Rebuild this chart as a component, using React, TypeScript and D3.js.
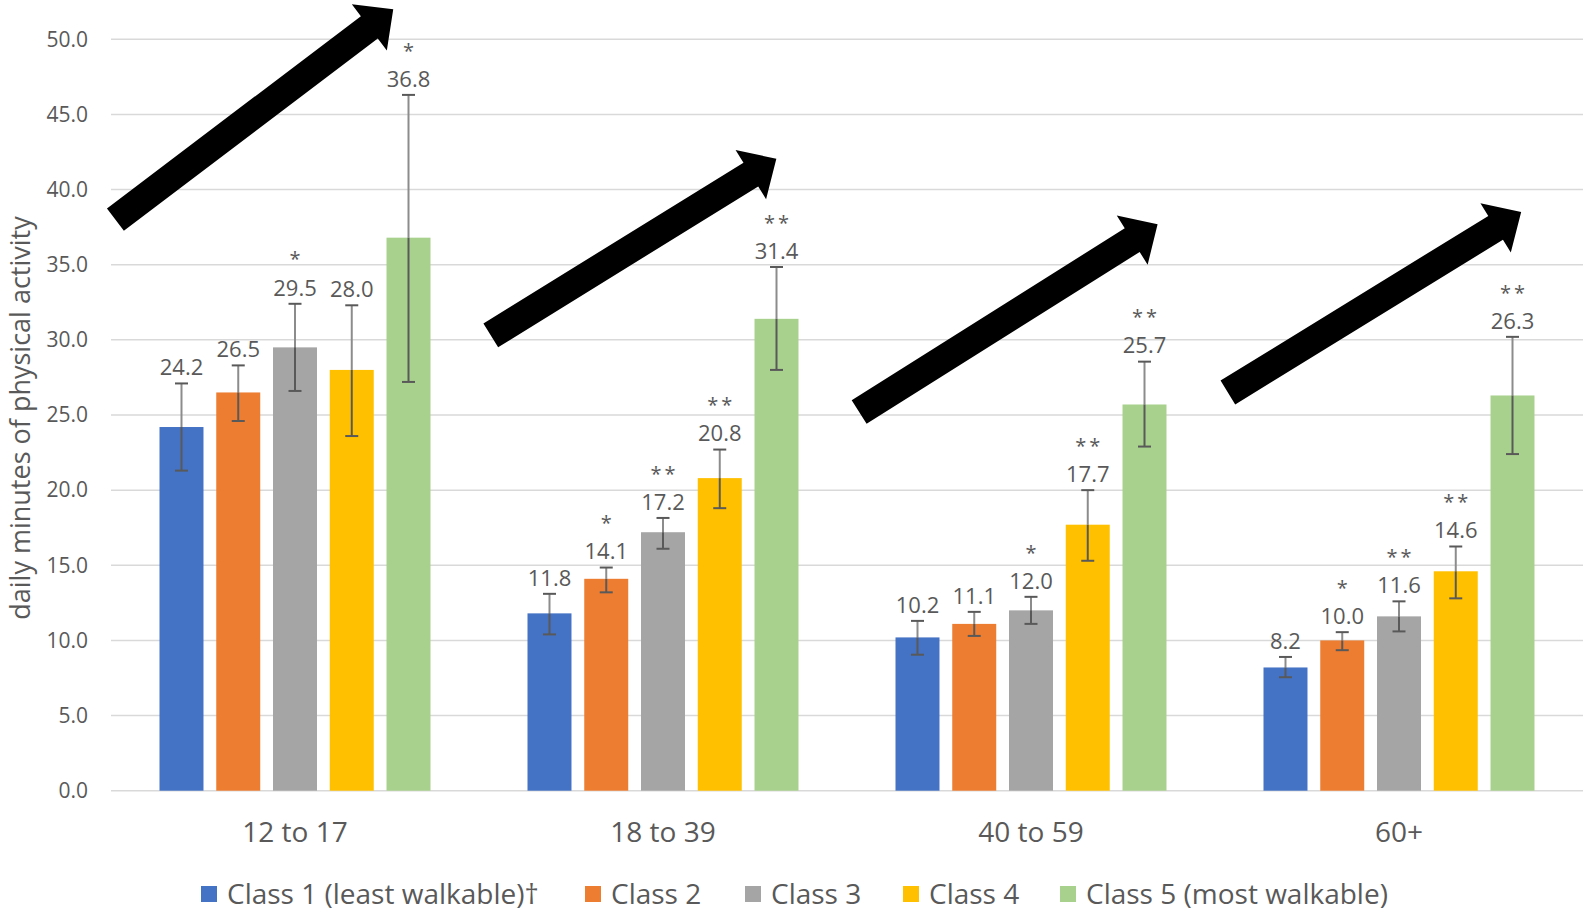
import React from "react";
import * as d3 from "d3";

const groups = ["12 to 17", "18 to 39", "40 to 59", "60+"];
const classes = ["Class 1 (least walkable)†", "Class 2", "Class 3", "Class 4", "Class 5 (most walkable)"];
const colors = ["#4472C4", "#ED7D31", "#A5A5A5", "#FFC000", "#A9D18E"];

// mean values per class, one entry per age group
const class1 = [24.2, 11.8, 10.2, 8.2];
const class2 = [26.5, 14.1, 11.1, 10.0];
const class3 = [29.5, 17.2, 12.0, 11.6];
const class4 = [28.0, 20.8, 17.7, 14.6];
const class5 = [36.8, 31.4, 25.7, 26.3];

// error bar lower / upper bounds
const low1 = [21.3, 10.4, 9.05, 7.55];
const low2 = [24.6, 13.2, 10.3, 9.35];
const low3 = [26.6, 16.1, 11.1, 10.6];
const low4 = [23.6, 18.8, 15.3, 12.8];
const low5 = [27.2, 28.0, 22.9, 22.4];

const high1 = [27.1, 13.1, 11.3, 8.9];
const high2 = [28.3, 14.85, 11.9, 10.55];
const high3 = [32.4, 18.15, 12.9, 12.6];
const high4 = [32.3, 22.7, 20.0, 16.25];
const high5 = [46.3, 34.85, 28.55, 30.2];

// significance markers
const sig1 = ["", "", "", ""];
const sig2 = ["", "*", "", "*"];
const sig3 = ["*", "**", "*", "**"];
const sig4 = ["", "**", "**", "**"];
const sig5 = ["*", "**", "**", "**"];

const yTicks = [0, 5, 10, 15, 20, 25, 30, 35, 40, 45, 50];

// trend arrows in data coordinates: [group index, fraction across group band, value]
const arrowTails = [[0, 0.012, 38.0], [1, 0.032, 30.3], [2, 0.033, 25.2], [3, 0.035, 26.5]];
const arrowTips = [[0, 0.767, 52.0], [1, 0.808, 42.05], [2, 0.844, 37.7], [3, 0.832, 38.5]];

const values = [class1, class2, class3, class4, class5];
const lows = [low1, low2, low3, low4, low5];
const highs = [high1, high2, high3, high4, high5];
const sigs = [sig1, sig2, sig3, sig4, sig5];

const W = 1585;
const H = 916;
const FONT = "'Open Sans', 'Noto Sans', sans-serif";
const TXT = "#595959";

export default function App() {
  const plotLeft = 111;
  const plotRight = 1583;
  const y = d3.scaleLinear().domain([0, 50]).range([790.7, 39.3]);
  const x0 = d3.scaleBand().domain(groups).range([plotLeft, plotRight]).padding(0);
  const bw0 = x0.bandwidth();
  const inner = 271;
  const x1 = d3
    .scaleBand()
    .domain(classes)
    .range([(bw0 - inner) / 2, (bw0 + inner) / 2])
    .paddingInner(0.225)
    .paddingOuter(0);
  const bw = x1.bandwidth();
  const fmt = d3.format(".1f");

  const arrowPath = (tail: number[], tip: number[]) => {
    const tx = (x0(groups[tail[0]]) as number) + tail[1] * bw0;
    const ty = y(tail[2]);
    const px = (x0(groups[tip[0]]) as number) + tip[1] * bw0;
    const py = y(tip[2]);
    const dx = px - tx;
    const dy = py - ty;
    const len = Math.hypot(dx, dy);
    const ux = dx / len, uy = dy / len;
    const nx = -uy, ny = ux;
    const w = 28, hw = 58, hl = 30;
    const bx = px - ux * hl, by = py - uy * hl;
    const pts = [
      [tx + nx * w / 2, ty + ny * w / 2],
      [bx + nx * w / 2, by + ny * w / 2],
      [bx + nx * hw / 2, by + ny * hw / 2],
      [px, py],
      [bx - nx * hw / 2, by - ny * hw / 2],
      [bx - nx * w / 2, by - ny * w / 2],
      [tx - nx * w / 2, ty - ny * w / 2],
    ];
    return d3.line()(pts as [number, number][]) + "Z";
  };

  const legendX = [201, 585, 745, 903, 1060];
  const legendY = 894;

  return (
    <svg
      width={W}
      height={H}
      style={{ position: "absolute", left: 0, top: 0, background: "#fff" }}
      fontFamily={FONT}
    >
      <rect width={W} height={H} fill="#fff" />
      {/* gridlines + tick labels */}
      {yTicks.map((t) => (
        <g key={t}>
          <line x1={plotLeft} x2={plotRight} y1={y(t)} y2={y(t)} stroke="#D9D9D9" strokeWidth={1.5} />
          <text x={88} y={y(t) + 7.3} textAnchor="end" fontSize={21} fill={TXT}>
            {fmt(t)}
          </text>
        </g>
      ))}
      {/* y axis title */}
      <text
        transform={`translate(${30},${418}) rotate(-90)`}
        textAnchor="middle"
        fontSize={27}
        fill={TXT}
      >
        daily minutes of physical activity
      </text>
      {/* bars */}
      {groups.map((g, gi) => (
        <g key={g} transform={`translate(${x0(g)},0)`}>
          {classes.map((c, ci) => {
            const v = values[ci][gi];
            const bx = x1(c) as number;
            return (
              <rect key={c} x={bx} y={y(v)} width={bw} height={y(0) - y(v)} fill={colors[ci]} />
            );
          })}
        </g>
      ))}
      {/* error bars, labels, stars */}
      {groups.map((g, gi) => (
        <g key={g + "e"} transform={`translate(${x0(g)},0)`}>
          {classes.map((c, ci) => {
            const v = values[ci][gi];
            const lo = lows[ci][gi];
            const hi = highs[ci][gi];
            const cx = (x1(c) as number) + bw / 2;
            const labelC = y(hi) - 16;
            const starC = labelC - 33;
            return (
              <g key={c}>
                <line x1={cx} x2={cx} y1={y(v)} y2={y(hi)} stroke="#8C8C8C" strokeWidth={2} />
                <line x1={cx} x2={cx} y1={y(v)} y2={y(lo)} stroke="#595959" strokeWidth={2} />
                <line x1={cx - 6.5} x2={cx + 6.5} y1={y(hi)} y2={y(hi)} stroke="#595959" strokeWidth={2} />
                <line x1={cx - 6.5} x2={cx + 6.5} y1={y(lo)} y2={y(lo)} stroke="#595959" strokeWidth={2} />
                <text x={cx} y={labelC + 7.8} textAnchor="middle" fontSize={22} fill={TXT}>
                  {fmt(v)}
                </text>
                {sigs[ci][gi] && (
                  <text
                    x={cx + (sigs[ci][gi].length > 1 ? 1.5 : 0)}
                    y={starC + 11.7}
                    textAnchor="middle"
                    fontSize={20}
                    letterSpacing={sigs[ci][gi].length > 1 ? 3 : 0}
                    fill={TXT}
                  >
                    {sigs[ci][gi]}
                  </text>
                )}
              </g>
            );
          })}
        </g>
      ))}
      {/* category labels */}
      {groups.map((g) => (
        <text
          key={g + "l"}
          x={(x0(g) as number) + bw0 / 2}
          y={831.7 + 10}
          textAnchor="middle"
          fontSize={28}
          fill={TXT}
        >
          {g}
        </text>
      ))}
      {/* arrows */}
      {arrowTails.map((t, i) => (
        <path key={"a" + i} d={arrowPath(t, arrowTips[i])} fill="#000" />
      ))}
      {/* legend */}
      {classes.map((c, i) => (
        <g key={c + "lg"}>
          <rect x={legendX[i]} y={legendY - 8} width={16} height={16} fill={colors[i]} />
          <text x={legendX[i] + 26} y={legendY + 10} fontSize={28} fill={TXT}>
            {c}
          </text>
        </g>
      ))}
    </svg>
  );
}
